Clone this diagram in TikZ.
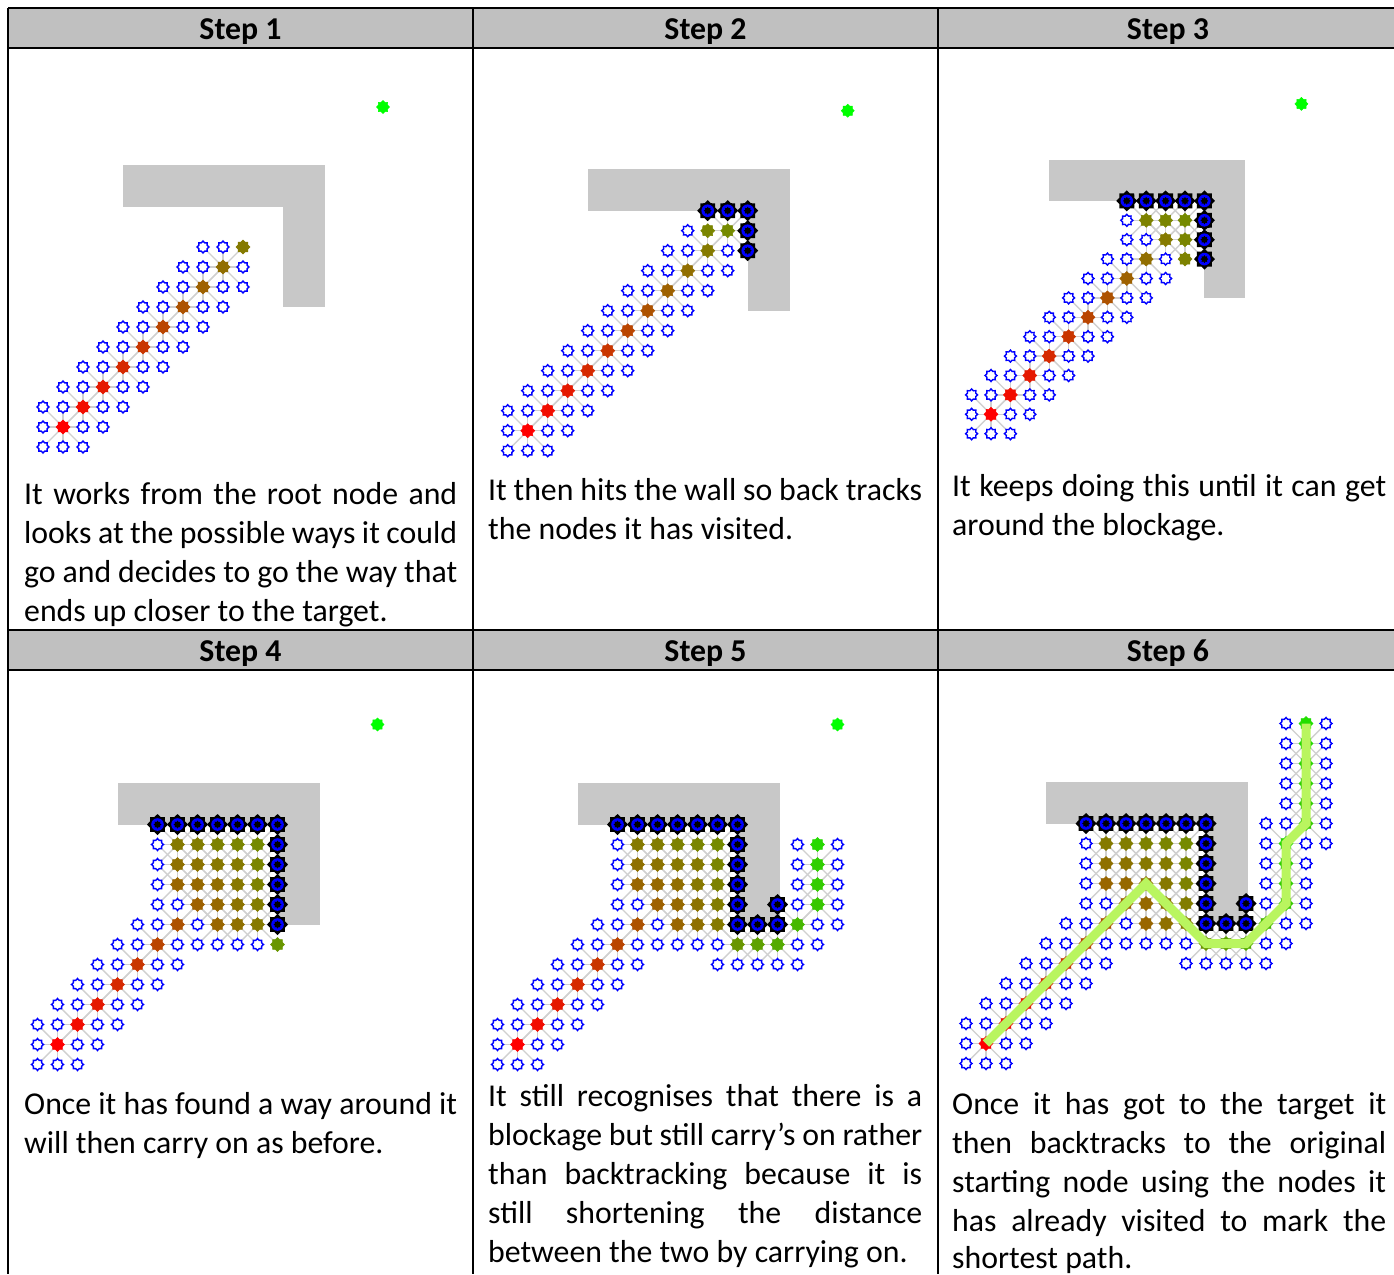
\documentclass[tikz,border=0pt]{standalone}
\usepackage{fontspec}
\setmainfont{Carlito}
\usetikzlibrary{shapes.geometric}
\pgfdeclarelayer{background}
\pgfsetlayers{background,main}
\definecolor{hdrgray}{RGB}{192,192,192}
\definecolor{wallgray}{RGB}{200,200,200}
\definecolor{linkgray}{RGB}{208,208,208}
\definecolor{openblue}{RGB}{0,0,255}
\definecolor{tgtgreen}{RGB}{0,255,0}
\definecolor{pathlime}{RGB}{185,245,95}
\colorlet{cellcol}{red}
\newcommand\bodyfont{\fontsize{31.8pt}{39pt}\selectfont}
\newcommand\jline[2]{\makebox[#1pt][s]{#2}}
\newif\ifwallcell
\newcommand\checkwall[2]{%
  \global\wallcellfalse
  \ifnum#1>2 \ifnum#1<14 \ifnum#2>10 \ifnum#2<14 \global\wallcelltrue\fi\fi\fi\fi
  \ifnum#1>10 \ifnum#1<14 \ifnum#2>5 \ifnum#2<14 \global\wallcelltrue\fi\fi\fi\fi}
\newcommand\gcolour[2]{%
  \pgfmathsetmacro\gcost{(#1>10 && #2<11) ? (15.56+1.4142*min(abs(#1-11),abs(#2-5))+abs(abs(#1-11)-abs(#2-5))) : (1.4142*min(#1,#2)+abs(#1-#2))}%
  \pgfmathtruncatemacro\gpct{min(100,\gcost/26*100)}%
  \colorlet{cellcol}{green!\gpct!red}}
\tikzset{
  opennode/.style={star, star points=8, star point ratio=1.35, minimum size=12pt, inner sep=0pt, draw=openblue, line width=1.4pt, fill=white},
  closednode/.style={star, star points=8, star point ratio=1.3, minimum size=14pt, inner sep=0pt, fill=cellcol, draw=cellcol, line width=0.5pt},
  wallnode/.style={star, star points=8, star point ratio=1.3, minimum size=21pt, inner sep=0pt, fill=black},
  wallcore/.style={star, star points=8, star point ratio=1.5, minimum size=8pt, inner sep=0pt, fill=black},
  targetnode/.style={star, star points=8, star point ratio=1.3, minimum size=13pt, inner sep=0pt, fill=tgtgreen, draw=tgtgreen, line width=0.5pt},
  linkline/.style={draw=linkgray, line width=1.4pt},
  wallblock/.style={fill=wallgray},
  pathline/.style={draw=pathlime, line width=9pt},
  hdrcell/.style={fill=hdrgray},
  tablerule/.style={draw=black, line width=1.6pt},
  headtext/.style={font=\bodyfont\bfseries, inner sep=0pt, anchor=base},
  bodytext/.style={font=\bodyfont, inner sep=0pt, anchor=base west},
}
\newcommand\drawpanel[6]{%
\begin{scope}[shift={(#2pt,-#3pt)}, x=#4pt, y=#4pt]
  \foreach \ci/\cj in {#5,#6}{\expandafter\gdef\csname cl-#1-\ci-\cj\endcsname{}}%
  \foreach \ci/\cj in {#5}{%
    \foreach \di/\dj in {-1/-1,0/-1,1/-1,-1/0,1/0,-1/1,0/1,1/1}{%
      \pgfmathtruncatemacro\ni{\ci+\di}%
      \pgfmathtruncatemacro\nj{\cj+\dj}%
      \ifcsname cl-#1-\ni-\nj\endcsname\else
        \ifcsname dn-#1-\ni-\nj\endcsname\else
          \expandafter\gdef\csname dn-#1-\ni-\nj\endcsname{}%
          \checkwall{\ni}{\nj}%
          \ifwallcell
            \node[wallnode] (p#1x\ni y\nj) at (\ni,\nj) {};
            \fill[openblue] (p#1x\ni y\nj.center) circle (6.3pt);
            \node[wallcore] (p#1c\ni y\nj) at (\ni,\nj) {};
          \else
            \node[opennode] (p#1x\ni y\nj) at (\ni,\nj) {};
          \fi
        \fi
      \fi
    }%
  }%
  \foreach \ci/\cj in {#5,#6}{%
    \gcolour{\ci}{\cj}%
    \node[closednode] (p#1x\ci y\cj) at (\ci,\cj) {};
  }%
  \ifcsname cl-#1-16-16\endcsname\else
    \node[targetnode] (p#1tgt) at (16,16) {};
  \fi
  \begin{pgfonlayer}{background}
    \fill[wallblock] (3,11) rectangle (13.1,13.1);
    \fill[wallblock] (11,6) rectangle (13.1,13.1);
    \foreach \ci/\cj in {#5}{%
      \foreach \di/\dj in {-1/-1,0/-1,1/-1,-1/0,1/0,-1/1,0/1,1/1}{%
        \pgfmathtruncatemacro\ni{\ci+\di}%
        \pgfmathtruncatemacro\nj{\cj+\dj}%
        \draw[linkline] (p#1x\ci y\cj.center) -- (p#1x\ni y\nj.center);
      }%
    }%
  \end{pgfonlayer}
\end{scope}}
\begin{document}
\begin{tikzpicture}[x=1pt,y=-1pt]
\useasboundingbox (0,0) rectangle (1394,1274);
\begin{pgfonlayer}{background}
\fill[white] (0,0) rectangle (1394,1274);
\end{pgfonlayer}
% header cells
\fill[hdrcell] (8,8) rectangle (1394,48);
\fill[hdrcell] (8,630) rectangle (1394,670);
% panels
\drawpanel{1}{63}{427}{20}{0/0,1/1,2/2,3/3,4/4,5/5,6/6,7/7,8/8}{9/9}
\drawpanel{2}{527.7}{430.7}{20}{0/0,1/1,2/2,3/3,4/4,5/5,6/6,7/7,8/8,9/9,10/10}{9/10}
\drawpanel{3}{991}{414.3}{19.4}{0/0,1/1,2/2,3/3,4/4,5/5,6/6,7/7,8/8,9/9,8/10,9/10,10/10,10/9}{10/8}
\drawpanel{4}{57.5}{1044.5}{20}{0/0,1/1,2/2,3/3,4/4,5/5,6/6,7/7,6/8,7/8,8/8,9/8,10/8,6/9,7/9,8/9,9/9,10/9,6/10,7/10,8/10,9/10,10/10,8/7,9/7,10/7,8/6,9/6,10/6}{11/5}
\drawpanel{5}{517.5}{1044.5}{20}{0/0,1/1,2/2,3/3,4/4,5/5,6/6,7/7,6/8,7/8,8/8,9/8,10/8,6/9,7/9,8/9,9/9,10/9,6/10,7/10,8/10,9/10,10/10,8/7,9/7,10/7,8/6,9/6,10/6,11/5,12/5,13/5,14/6,15/7,15/8,15/9}{15/10}
\drawpanel{6}{986}{1043.5}{20}{0/0,1/1,2/2,3/3,4/4,5/5,6/6,7/7,6/8,7/8,8/8,9/8,10/8,6/9,7/9,8/9,9/9,10/9,6/10,7/10,8/10,9/10,10/10,8/7,9/7,10/7,8/6,9/6,10/6,11/5,12/5,13/5,14/6,15/7,15/8,15/9,15/10,16/11,16/12,16/13,16/14,16/15}{16/16}
\draw[pathline] (p6x0y0.center) -- (p6x8y8.center) -- (p6x11y5.center) -- (p6x13y5.center) -- (p6x15y7.center) -- (p6x15y10.center) -- (p6x16y11.center) -- (p6x16y16.center);
% table rules
\draw[tablerule] (8,8) -- (1394,8);
\draw[tablerule] (8,48) -- (1394,48);
\draw[tablerule] (8,630) -- (1394,630);
\draw[tablerule] (8,670) -- (1394,670);
\draw[tablerule] (8,8) -- (8,1274);
\draw[tablerule] (473,8) -- (473,1274);
\draw[tablerule] (938,8) -- (938,1274);
% headers
\node[headtext] (h1) at (240.5,39) {Step 1};
\node[headtext] (h2) at (705.5,39) {Step 2};
\node[headtext] (h3) at (1168,39) {Step 3};
\node[headtext] (h4) at (240.5,661) {Step 4};
\node[headtext] (h5) at (705.5,661) {Step 5};
\node[headtext] (h6) at (1168,661) {Step 6};
% texts
\node[bodytext] (a1) at (24,504) {\jline{433}{It works from the root node and}};
\node[bodytext] (a2) at (24,543) {\jline{433}{looks at the possible ways it could}};
\node[bodytext] (a3) at (24,582) {\jline{433}{go and decides to go the way that}};
\node[bodytext] (a4) at (24,621) {ends up closer to the target.};
\node[bodytext] (b1) at (488,500) {\jline{434}{It then hits the wall so back tracks}};
\node[bodytext] (b2) at (488,539) {the nodes it has visited.};
\node[bodytext] (c1) at (952,496) {\jline{434}{It keeps doing this until it can get}};
\node[bodytext] (c2) at (952,535) {around the blockage.};
\node[bodytext] (d1) at (24,1114) {\jline{433}{Once it has found a way around it}};
\node[bodytext] (d2) at (24,1153) {will then carry on as before.};
\node[bodytext] (e1) at (488,1106) {\jline{434}{It still recognises that there is a}};
\node[bodytext] (e2) at (488,1145) {\jline{434}{blockage but still carry’s on rather}};
\node[bodytext] (e3) at (488,1184) {\jline{434}{than backtracking because it is}};
\node[bodytext] (e4) at (488,1223) {\jline{434}{still shortening the distance}};
\node[bodytext] (e5) at (488,1262) {between the two by carrying on.};
\node[bodytext] (f1) at (952,1114) {\jline{434}{Once it has got to the target it}};
\node[bodytext] (f2) at (952,1153) {\jline{434}{then backtracks to the original}};
\node[bodytext] (f3) at (952,1192) {\jline{434}{starting node using the nodes it}};
\node[bodytext] (f4) at (952,1231) {\jline{434}{has already visited to mark the}};
\node[bodytext] (f5) at (952,1268) {shortest path.};
\end{tikzpicture}
\end{document}
